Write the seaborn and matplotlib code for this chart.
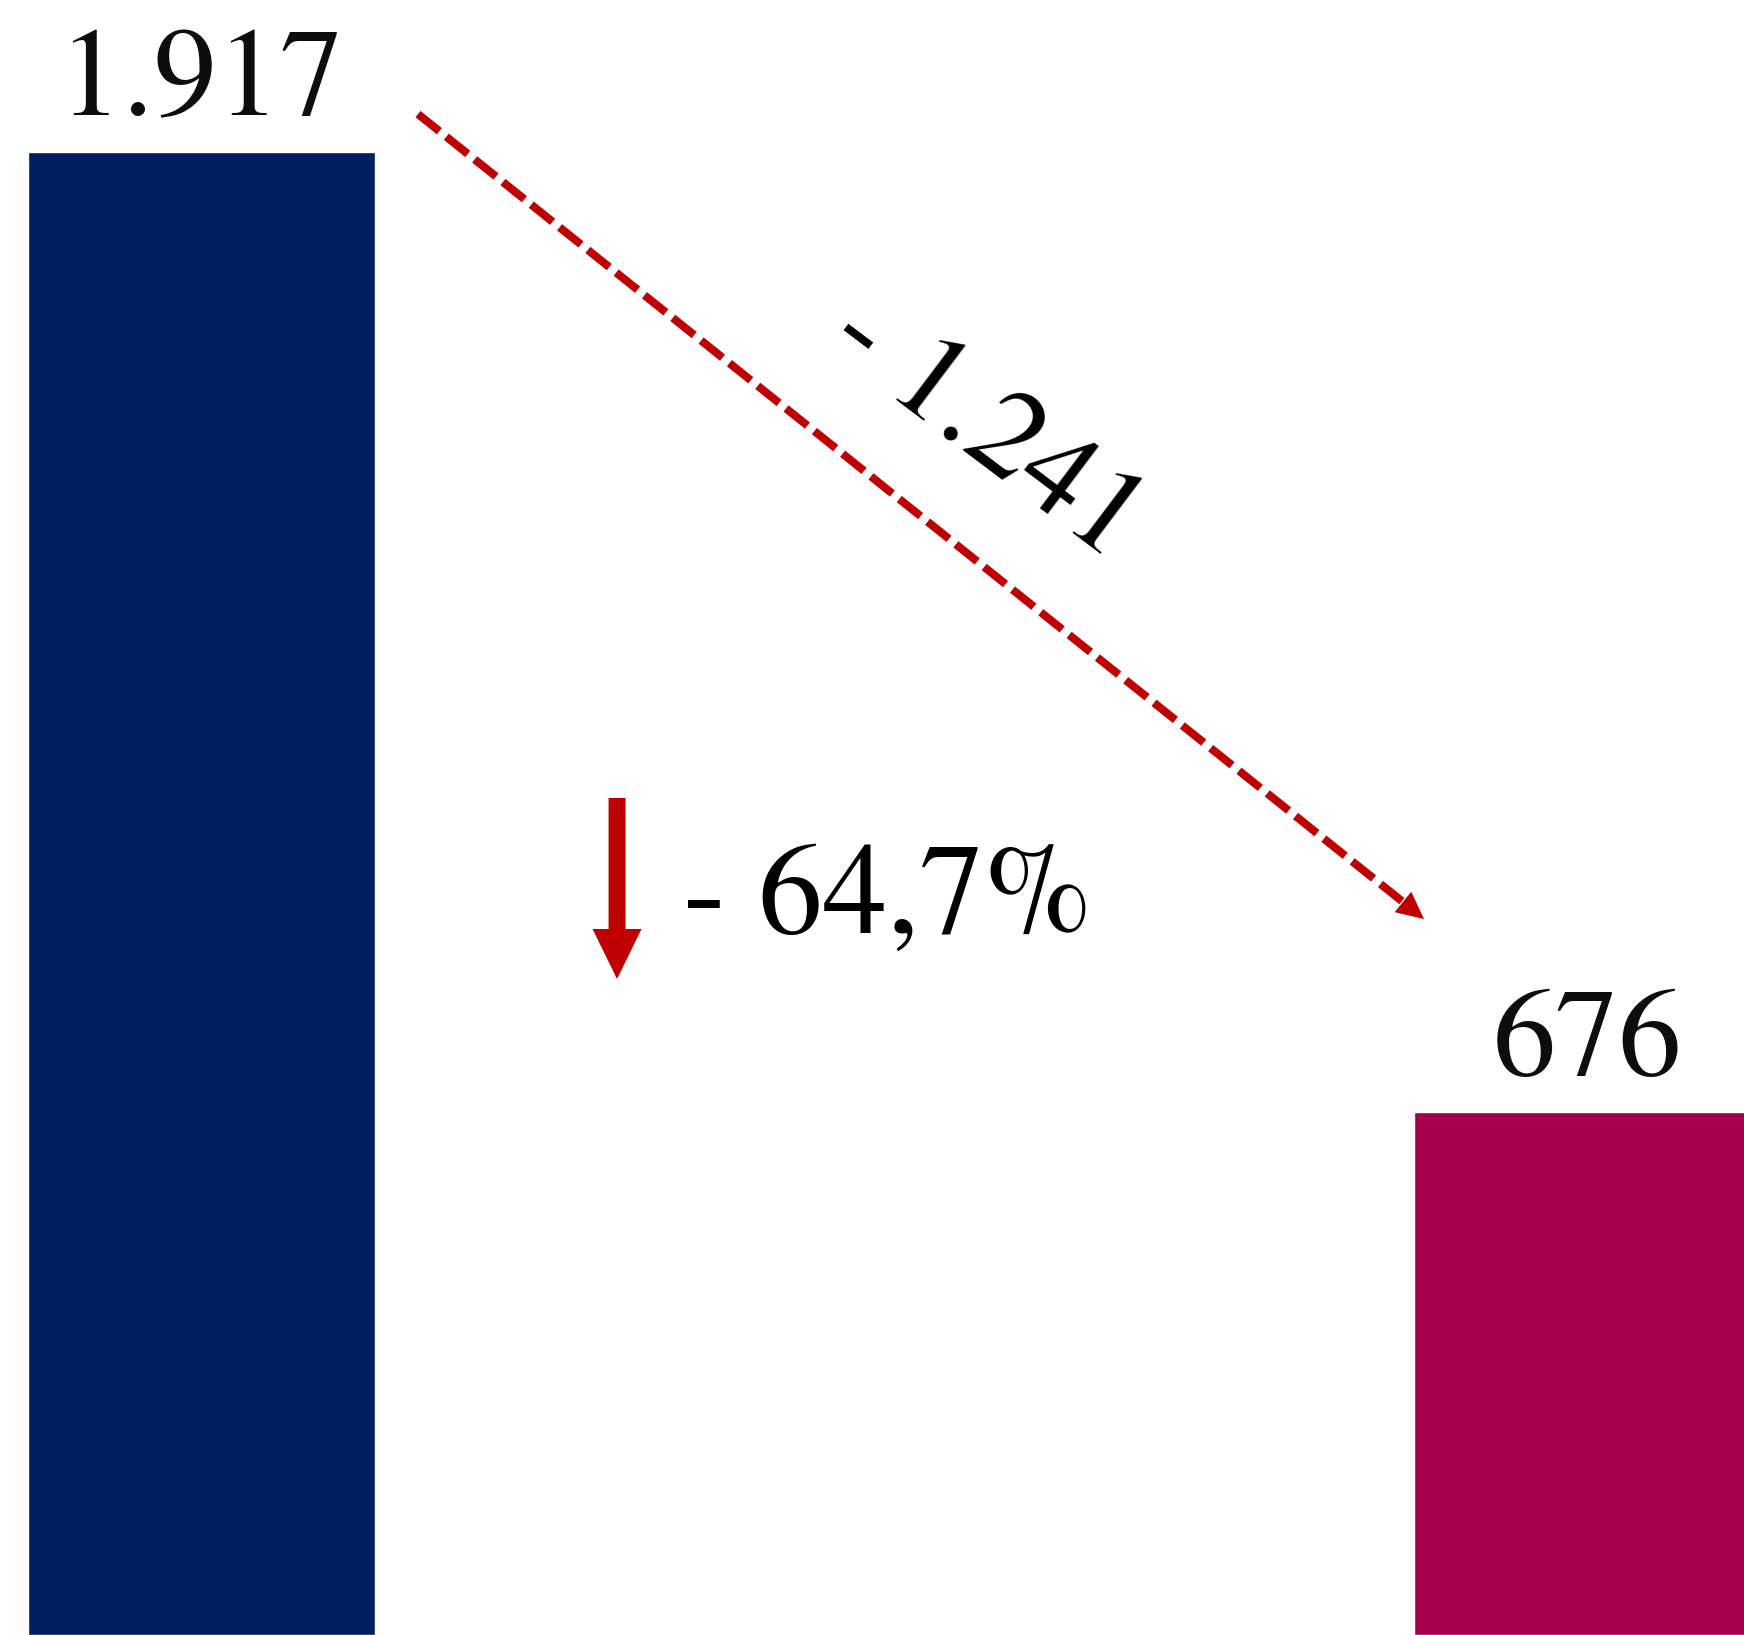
"""
Two-bar comparison with the drop highlighted by arrows.
"""

import matplotlib
matplotlib.use("Agg")

import matplotlib.pyplot as plt
import seaborn as sns

##  Data
periods = ["Periodo 1", "Periodo 2"]
values = [1917, 676]
value_labels = ["1.917", "676"]
bar_colors = ["#001F5F", "#A50050"]
diff_label = "- 1.241"
pct_label = "- 64,7%"

red = "#C00000"
ink = "#0d0d0d"

sns.set_theme(style="white")
#  Times-like serif, set after seaborn theme
plt.rcParams["font.family"] = ["TeX Gyre Termes", "Liberation Serif", "DejaVu Serif"]

##  Figure fills the whole canvas, no axes drawn
fig = plt.figure(figsize=(17.44, 16.35), dpi=100)
ax = fig.add_axes([0, 0, 1, 1])

sns.barplot(x=periods, y=values, hue=periods, palette=bar_colors,
            width=0.25, saturation=1, legend=False, ax=ax)

ax.set_xlim(-0.1454, 1.1129)
ax.set_ylim(0, 2113.5)
ax.set_axis_off()

#  Value labels above the bars
for i, (v, lab) in enumerate(zip(values, value_labels)):
    ax.text(i, v + 48, lab, ha="center", va="baseline",
            fontsize=91, color=ink)

#  Dashed diagonal arrow from first to second bar
start = (0.1562, 1966)
head_base = (0.8669, 947.5)
tip = (0.882, 925.5)
ax.plot([start[0], head_base[0]], [start[1], head_base[1]], color=red,
        lw=5.8, dashes=(3.4, 1.1), dash_capstyle="butt")
ax.annotate("", xy=tip, xytext=(0.8518, 969.5),
            arrowprops=dict(arrowstyle="simple,head_length=19.5,head_width=19,tail_width=0.1",
                            mutation_scale=1, color=red, lw=0,
                            shrinkA=0, shrinkB=0))

#  Absolute difference along the dashed arrow
ax.text(0.5653, 1557, diff_label, rotation=-37, rotation_mode="anchor",
        ha="center", va="center", fontsize=91, color="black")

#  Small down arrow with percent change
ax.annotate("", xy=(0.2998, 848), xytext=(0.2998, 1082),
            arrowprops=dict(arrowstyle="simple,head_length=36,head_width=35.3,tail_width=12.2",
                            mutation_scale=1, color=red, lw=0,
                            shrinkA=0, shrinkB=0))
ax.text(0.3474, 907, pct_label, ha="left", va="baseline",
        fontsize=93, color="black")

fig.savefig("out.png", dpi=100)
